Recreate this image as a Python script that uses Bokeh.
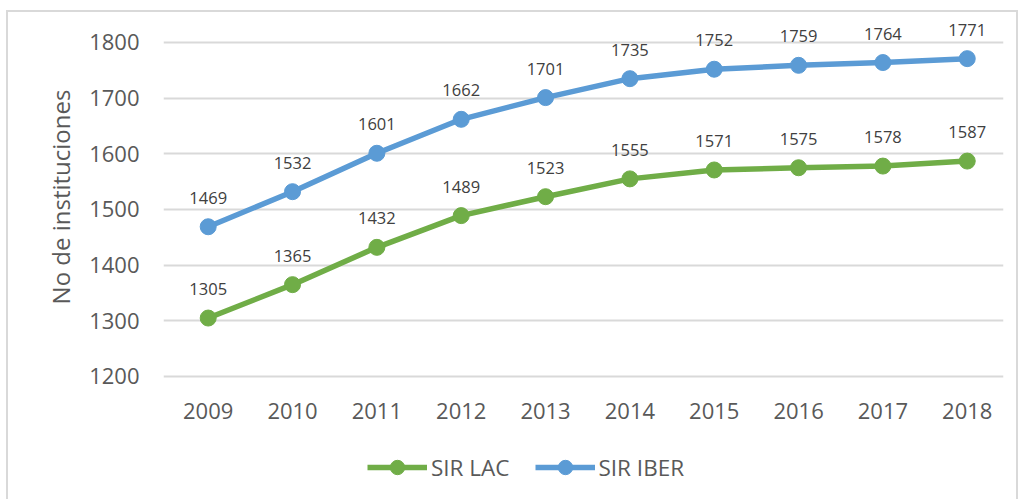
from bokeh.plotting import figure
from bokeh.layouts import column
from bokeh.models import ColumnDataSource, Legend, LegendItem, FixedTicker, Range1d
from bokeh.core.properties import value
from bokeh.embed import file_html
from bokeh.resources import INLINE

years = [2009, 2010, 2011, 2012, 2013, 2014, 2015, 2016, 2017, 2018]
sir_lac = [1305, 1365, 1432, 1489, 1523, 1555, 1571, 1575, 1578, 1587]
sir_iber = [1469, 1532, 1601, 1662, 1701, 1735, 1752, 1759, 1764, 1771]
y_ticks = [1200, 1300, 1400, 1500, 1600, 1700, 1800]
y_label = "No de instituciones"
series_names = ["SIR LAC", "SIR IBER"]

FONT = "Open Sans"
GREEN = "#70AD47"
BLUE = "#5B9BD5"
TXT = "#595959"

p = figure(width=1008, height=428, output_backend="svg", toolbar_location=None,
           x_range=Range1d(2008.47, 2018.43), y_range=Range1d(1194.6, 1850.3),
           min_border_left=155, min_border_right=13, min_border_top=2, min_border_bottom=61)
p.outline_line_color = None

src_lac = ColumnDataSource(dict(x=years, y=sir_lac, t=[str(v) for v in sir_lac]))
src_iber = ColumnDataSource(dict(x=years, y=sir_iber, t=[str(v) for v in sir_iber]))

p.line("x", "y", source=src_lac, line_color=GREEN, line_width=5.5)
p.scatter("x", "y", source=src_lac, size=16, fill_color=GREEN, line_color=GREEN)
p.line("x", "y", source=src_iber, line_color=BLUE, line_width=5.5)
p.scatter("x", "y", source=src_iber, size=16, fill_color=BLUE, line_color=BLUE)

for s in (src_lac, src_iber):
    p.text("x", "y", text="t", source=s, text_align="center", text_baseline="middle",
           y_offset=-29, text_font=value(FONT), text_font_size="16.5px", text_color="#404040")

p.xaxis.ticker = FixedTicker(ticks=years)
p.yaxis.ticker = FixedTicker(ticks=y_ticks)
for ax in (p.xaxis, p.yaxis):
    ax.axis_line_color = None
    ax.major_tick_line_color = None
    ax.minor_tick_line_color = None
    ax.major_label_text_font = FONT
    ax.major_label_text_font_size = "22px"
    ax.major_label_text_color = TXT
p.yaxis.major_label_standoff = 18
p.xaxis.major_label_standoff = 17
p.yaxis.axis_label = y_label
p.yaxis.axis_label_text_font = FONT
p.yaxis.axis_label_text_font_size = "24px"
p.yaxis.axis_label_text_font_style = "normal"
p.yaxis.axis_label_text_color = TXT
p.yaxis.axis_label_standoff = 9

p.xgrid.grid_line_color = None
p.ygrid.grid_line_color = "#d9d9d9"
p.ygrid.grid_line_width = 2

# legend in its own strip below the chart (its frame is aligned with the chart's frame)
lg = figure(width=1008, height=59, output_backend="svg", toolbar_location=None,
            x_range=Range1d(0, 1), y_range=Range1d(0, 1), x_axis_type=None, y_axis_type=None,
            min_border=0)
lg.outline_line_color = None
lg.grid.visible = False
hidden = dict(x=[5, 6], y=[5, 5])
r_l1 = lg.line("x", "y", source=ColumnDataSource(hidden), line_color=GREEN, line_width=5.5)
r_m1 = lg.scatter("x", "y", source=ColumnDataSource(hidden), size=16, fill_color=GREEN, line_color=GREEN)
r_l2 = lg.line("x", "y", source=ColumnDataSource(hidden), line_color=BLUE, line_width=5.5)
r_m2 = lg.scatter("x", "y", source=ColumnDataSource(hidden), size=16, fill_color=BLUE, line_color=BLUE)
legend = Legend(items=[LegendItem(label=series_names[0], renderers=[r_l1, r_m1]),
                       LegendItem(label=series_names[1], renderers=[r_l2, r_m2])],
                orientation="horizontal", location=(204, 14),
                label_text_font=FONT, label_text_font_size="22.5px", label_text_color=TXT,
                glyph_width=60, glyph_height=36, spacing=25, label_standoff=4,
                border_line_color=None, background_fill_alpha=0, margin=0, padding=4)
lg.add_layout(legend, "center")

layout = column(p, lg, spacing=0)
layout.styles = {"border": "2px solid #d9d9d9", "border-bottom": "none",
                 "margin-left": "6px", "margin-top": "10px"}

open("out.html", "w").write(file_html(layout, INLINE))
